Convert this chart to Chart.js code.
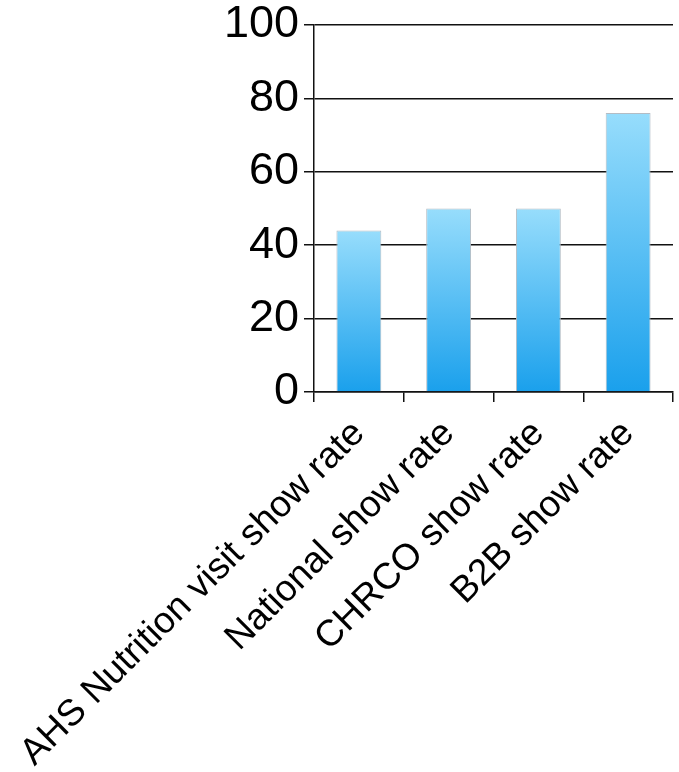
<!DOCTYPE html>
<html>
<head>
<meta charset="utf-8">
<script src="https://cdn.jsdelivr.net/npm/chart.js@4"></script>
<style>
  html, body { margin: 0; padding: 0; background: #fff; }
  #wrap { width: 679px; height: 772px; }
</style>
</head>
<body>
<div id="wrap"><canvas id="barChart"></canvas></div>
<script>
const categories = [
  'AHS Nutrition visit show rate',
  'National show rate',
  'CHRCO show rate',
  'B2B show rate',
];
const showRates = [44, 50, 50, 76];
const yTicks = [0, 20, 40, 60, 80, 100];

const FONT = "'Liberation Sans', Arial, sans-serif";

// each bar gets its own light-to-dark vertical gradient
function barGradient(ctx) {
  const { chart, dataIndex } = ctx;
  const yScale = chart.scales.y;
  if (!chart.chartArea || !yScale) return '#4fbdf2';
  const top = yScale.getPixelForValue(showRates[dataIndex]);
  const bottom = yScale.getPixelForValue(0);
  const g = chart.ctx.createLinearGradient(0, top, 0, bottom);
  g.addColorStop(0, '#97ddfc');
  g.addColorStop(1, '#1aa0ec');
  return g;
}

new Chart(document.getElementById('barChart'), {
  type: 'bar',
  data: {
    labels: categories,
    datasets: [{
      data: showRates,
      backgroundColor: barGradient,
      borderColor: '#b4bcc4',
      borderWidth: 1,
      barPercentage: 0.5,
      categoryPercentage: 1.0,
    }],
  },
  options: {
    responsive: true,
    maintainAspectRatio: false,
    animation: false,
    layout: { padding: { top: 0, right: 6, bottom: 0, left: 0 } },
    plugins: {
      legend: { display: false },
      tooltip: { enabled: false },
    },
    scales: {
      x: {
        // fixed room for the long rotated labels
        afterFit: scale => {
          scale.height = 380;
          scale.paddingLeft = 0;
          scale.paddingRight = 0;
        },
        grid: {
          offset: true,
          drawOnChartArea: false,
          drawTicks: true,
          tickLength: 10,
          color: '#111',
          lineWidth: 1.5,
        },
        border: { color: '#111', width: 1.5 },
        ticks: {
          color: '#000',
          font: { family: FONT, size: 37 },
          minRotation: 45,
          maxRotation: 45,
          autoSkip: false,
          padding: 10,
        },
      },
      y: {
        min: 0,
        max: 100,
        afterBuildTicks: axis => {
          axis.ticks = yTicks.map(v => ({ value: v }));
        },
        afterFit: scale => {
          scale.width = 314;
          scale.paddingTop = 25;
        },
        grid: {
          color: '#111',
          lineWidth: 1.5,
          tickLength: 10,
        },
        border: { color: '#111', width: 1.5 },
        ticks: {
          color: '#000',
          font: { family: FONT, size: 45 },
          padding: 5,
        },
      },
    },
  },
});
</script>
</body>
</html>
